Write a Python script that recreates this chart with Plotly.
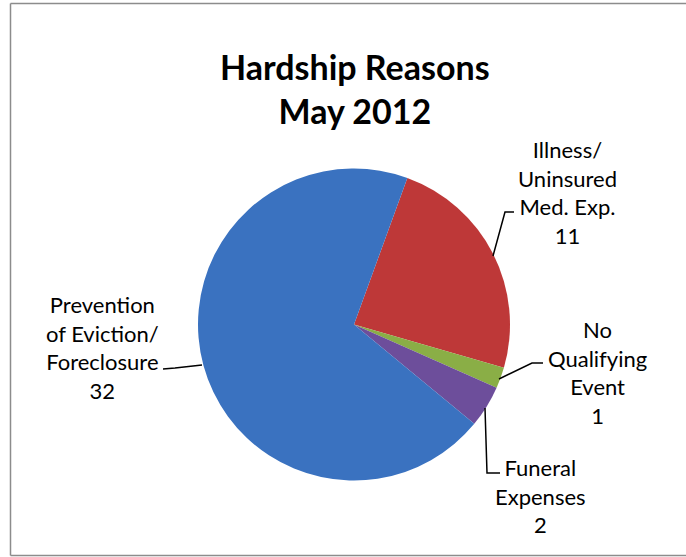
import plotly.graph_objects as go

# Data
categories = ["Illness/<br>Uninsured<br>Med. Exp.", "No<br>Qualifying<br>Event",
              "Funeral<br>Expenses", "Prevention<br>of Eviction/<br>Foreclosure"]
values = [11, 1, 2, 32]
colors = ["#be3838", "#8aae46", "#6d4e9b", "#3a72c0"]
title_text = "<b>Hardship Reasons<br>May 2012</b>"

W, H = 686, 557

def px(x):
    return x / W

def py(y):
    return 1 - y / H

cx, cy, r = 354, 324.5, 156

fig = go.Figure()
fig.add_trace(go.Pie(
    labels=categories,
    values=values,
    sort=False,
    direction="clockwise",
    rotation=20,
    marker=dict(colors=colors, line=dict(width=0)),
    textinfo="none",
    hoverinfo="label+value",
    showlegend=False,
    domain=dict(x=[px(cx - r), px(cx + r)], y=[py(cy + r), py(cy - r)]),
))

# Label placements (layout)
label_pos = [(567, 192), (597, 372), (540, 496), (102, 347)]
annotations = []
for lab, v, (lx, ly) in zip(categories, values, label_pos):
    annotations.append(dict(
        x=px(lx), y=py(ly), xref="paper", yref="paper",
        text=f"{lab}<br>{v}", showarrow=False, align="center",
        xanchor="center", yanchor="middle",
        font=dict(family="Lato", size=22, color="#000000"),
    ))
annotations.append(dict(
    x=px(355), y=py(89), xref="paper", yref="paper", text=title_text,
    showarrow=False, xanchor="center", yanchor="middle", align="center",
    font=dict(family="Lato", size=34, color="#000000"),
))

leaders = [
    [(493, 256), (505, 212), (514, 212)],
    [(499, 379), (532, 363), (543, 363)],
    [(485, 408), (487, 473), (500, 473)],
    [(202, 365), (175, 368), (163, 369)],
]
shapes = []
for pts in leaders:
    path = "M " + " L ".join(f"{px(x)},{py(y)}" for x, y in pts)
    shapes.append(dict(type="path", path=path, xref="paper", yref="paper",
                       line=dict(color="#000000", width=1.5)))
# Outer frame: left, top and bottom edges only (right edge is off-page)
frame_edges = [
    ((10.5, 3.5), (686, 3.5)),
    ((10.5, 3.5), (10.5, 555.5)),
    ((10.5, 555.5), (686, 555.5)),
]
for (x0, y0), (x1, y1) in frame_edges:
    shapes.append(dict(type="line", xref="paper", yref="paper",
                       x0=px(x0), y0=py(y0), x1=px(x1), y1=py(y1),
                       line=dict(color="#8c8c8c", width=1.5)))

fig.update_layout(
    width=W, height=H,
    margin=dict(l=0, r=0, t=0, b=0),
    paper_bgcolor="white",
    plot_bgcolor="white",
    annotations=annotations,
    shapes=shapes,
)

fig.write_html(
    "out.html",
    config={"displayModeBar": False},
    post_script="document.body.style.margin='0';document.body.style.overflow='hidden';",
)
